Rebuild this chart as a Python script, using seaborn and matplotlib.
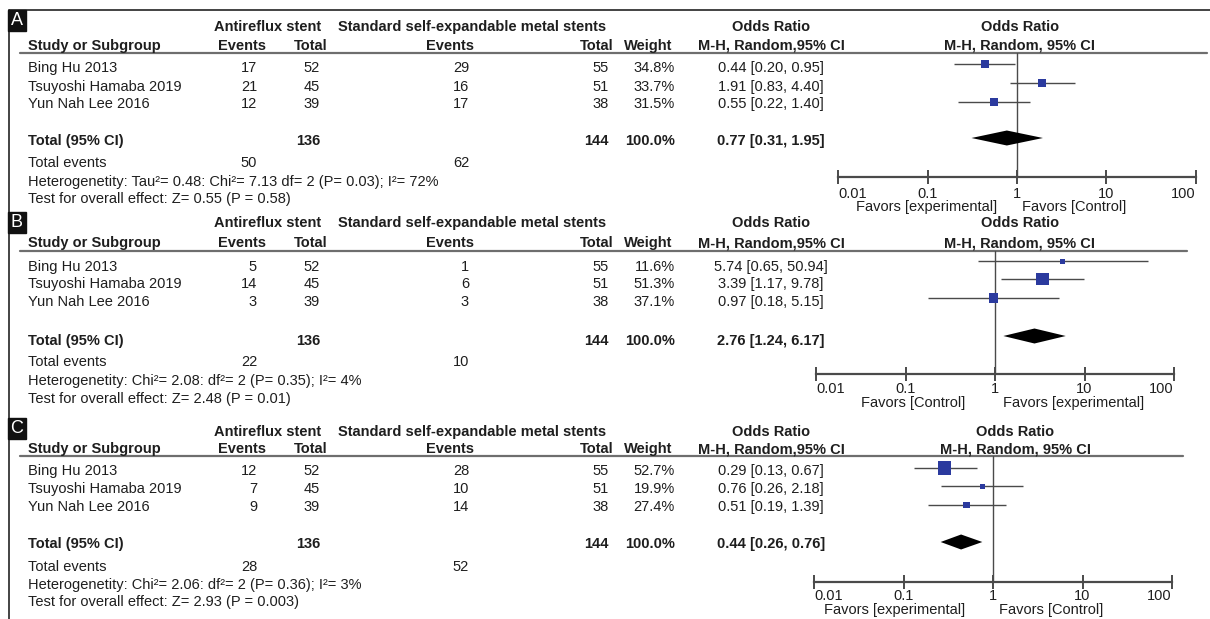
import matplotlib
matplotlib.use('Agg')

import numpy as np
import matplotlib.pyplot as plt
import seaborn as sns
from matplotlib.patches import Rectangle

sns.set_theme(style="white")
plt.rcParams['font.family'] = ['Liberation Sans', 'DejaVu Sans']

# ---------------- data ----------------
panels = ['A', 'B', 'C']
studies = ['Bing Hu 2013', 'Tsuyoshi Hamaba 2019', 'Yun Nah Lee 2016']
exp_events = [[17, 21, 12], [5, 14, 3], [12, 7, 9]]
exp_total = [52, 45, 39]
ctl_events = [[29, 16, 17], [1, 6, 3], [28, 10, 14]]
ctl_total = [55, 51, 38]
weights = [[34.8, 33.7, 31.5], [11.6, 51.3, 37.1], [52.7, 19.9, 27.4]]
or_est = [[0.44, 1.91, 0.55], [5.74, 3.39, 0.97], [0.29, 0.76, 0.51]]
or_lo = [[0.20, 0.83, 0.22], [0.65, 1.17, 0.18], [0.13, 0.26, 0.19]]
or_hi = [[0.95, 4.40, 1.40], [50.94, 9.78, 5.15], [0.67, 2.18, 1.39]]
pooled_est = [0.77, 2.76, 0.44]
pooled_lo = [0.31, 1.24, 0.26]
pooled_hi = [1.95, 6.17, 0.76]
total_exp_events = [50, 22, 28]
total_ctl_events = [62, 10, 52]
heterogeneity = [
    'Heterogenetity: Tau²= 0.48: Chi²= 7.13 df= 2 (P= 0.03); I²= 72%',
    'Heterogenetity: Chi²= 2.08: df²= 2 (P= 0.35); I²= 4%',
    'Heterogenetity: Chi²= 2.06: df²= 2 (P= 0.36); I²= 3%',
]
overall_effect = [
    'Test for overall effect: Z= 0.55 (P = 0.58)',
    'Test for overall effect: Z= 2.48 (P = 0.01)',
    'Test for overall effect: Z= 2.93 (P = 0.003)',
]
favors_left = ['Favors [experimental]', 'Favors [Control]', 'Favors [experimental]']
favors_right = ['Favors [Control]', 'Favors [experimental]', 'Favors [Control]']
tick_vals = [0.01, 0.1, 1, 10, 100]
tick_labels = ['0.01', '0.1', '1', '10', '100']

# ---------------- layout (pixels) ----------------
W, H = 1210, 619
y_head1 = [27, 223, 432]
y_head2 = [46, 243, 449]
y_line = [53, 251, 456]
line_end = [1207, 1187, 1183]
x_fhead = [1020, 1020, 1015]
y_rows = [[68, 87, 104], [267, 284, 302], [471, 489, 507]]
y_total = [141, 341, 544]
y_tev = [163, 362, 567]
y_het = [182, 381, 585]
y_test = [199, 399, 602]
y_box = [10, 212, 418]
y_frows = [[64, 83, 102], [261, 279, 298], [468, 486, 505]]
y_dia = [138, 336, 542]
y_axis = [177, 374, 582]
x_lo = [838, 816, 814]
x_hi = [1196, 1174, 1172]
tick_pad = [2, 0.6, 0.2]
fav_gap = [(20, 5), (30, 8), (28, 6)]
y_fav = [207, 403, 610]

txt = '#1e1e1e'
fs = 10.5
blue = '#2b3a9e'
grey = '#4a4a4a'

fig = plt.figure(figsize=(W / 100, H / 100), dpi=100)
bg = fig.add_axes([0, 0, 1, 1])
bg.set_xlim(0, W)
bg.set_ylim(H, 0)
bg.axis('off')

# outer frame
bg.plot([9, W], [10, 10], color='#111111', lw=1.1)
bg.plot([9, 9], [10, H], color='#111111', lw=1.1)

for p in range(3):
    # panel letter
    bg.add_patch(Rectangle((8, y_box[p]), 18, 21, color='#111111'))
    bg.text(17, y_box[p] + 10.5, panels[p], color='white', fontsize=13,
            ha='center', va='center')

    # headers
    bold = dict(fontsize=fs, fontweight='bold', color=txt, va='center')
    bg.text(268, y_head1[p], 'Antireflux stent', ha='center', **bold)
    bg.text(472, y_head1[p], 'Standard self-expandable metal stents', ha='center', **bold)
    bg.text(771, y_head1[p], 'Odds Ratio', ha='center', **bold)
    bg.text(x_fhead[p], y_head1[p], 'Odds Ratio', ha='center', **bold)
    bg.text(28, y_head2[p], 'Study or Subgroup', ha='left', **bold)
    bg.text(242, y_head2[p], 'Events', ha='center', **bold)
    bg.text(328, y_head2[p], 'Total', ha='right', **bold)
    bg.text(450, y_head2[p], 'Events', ha='center', **bold)
    bg.text(614, y_head2[p], 'Total', ha='right', **bold)
    bg.text(672, y_head2[p], 'Weight', ha='right', **bold)
    bg.text(771, y_head2[p], 'M-H, Random,95% CI', ha='center', **bold)
    bg.text(x_fhead[p], y_head2[p], 'M-H, Random, 95% CI', ha='center', **bold)
    bg.plot([20, line_end[p]], [y_line[p], y_line[p]], color='#6e6e6e', lw=1.6)

    # study rows
    norm = dict(fontsize=fs, color=txt, va='center')
    for i, name in enumerate(studies):
        y = y_rows[p][i]
        bg.text(28, y, name, ha='left', **norm)
        bg.text(257, y, str(exp_events[p][i]), ha='right', **norm)
        bg.text(320, y, str(exp_total[i]), ha='right', **norm)
        bg.text(469, y, str(ctl_events[p][i]), ha='right', **norm)
        bg.text(609, y, str(ctl_total[i]), ha='right', **norm)
        bg.text(675, y, f'{weights[p][i]:.1f}%', ha='right', **norm)
        bg.text(771, y, f'{or_est[p][i]:.2f} [{or_lo[p][i]:.2f}, {or_hi[p][i]:.2f}]',
                ha='center', **norm)

    # totals
    y = y_total[p]
    bg.text(28, y, 'Total (95% CI)', ha='left', **bold)
    bg.text(320, y, str(sum(exp_total)), ha='right', **bold)
    bg.text(609, y, str(sum(ctl_total)), ha='right', **bold)
    bg.text(675, y, '100.0%', ha='right', **bold)
    bg.text(771, y, f'{pooled_est[p]:.2f} [{pooled_lo[p]:.2f}, {pooled_hi[p]:.2f}]',
            ha='center', **bold)
    bg.text(28, y_tev[p], 'Total events', ha='left', **norm)
    bg.text(257, y_tev[p], str(total_exp_events[p]), ha='right', **norm)
    bg.text(469, y_tev[p], str(total_ctl_events[p]), ha='right', **norm)
    bg.text(28, y_het[p], heterogeneity[p], ha='left', **norm)
    bg.text(28, y_test[p], overall_effect[p], ha='left', **norm)

    # forest plot axes (log odds ratio scale)
    ax = fig.add_axes([x_lo[p] / W, 1 - y_axis[p] / H,
                       (x_hi[p] - x_lo[p]) / W, (y_axis[p] - y_line[p]) / H])
    ax.set_facecolor('none')
    ax.set_xscale('log')
    ax.set_xlim(0.01, 100)
    ax.set_ylim(y_axis[p], y_line[p])
    ax.axvline(1, color=grey, lw=1.0, zorder=1)
    ax.hlines(y_frows[p], or_lo[p], or_hi[p], color=grey, lw=1.0, zorder=2)
    side = np.maximum(5, 0.25 * np.array(weights[p])) * 0.72
    sns.scatterplot(x=or_est[p], y=y_frows[p], s=side ** 2, marker='s', color=blue,
                    linewidth=0, legend=False, ax=ax, zorder=3)
    yd, hd = y_dia[p], 7.5
    ax.fill([pooled_lo[p], pooled_est[p], pooled_hi[p], pooled_est[p]],
            [yd, yd - hd, yd, yd + hd], color='black', lw=0, zorder=3)

    for s in ['top', 'right', 'left']:
        ax.spines[s].set_visible(False)
    ax.spines['bottom'].set_color(grey)
    ax.spines['bottom'].set_linewidth(1.6)
    ax.set_yticks([])
    ax.set_xticks(tick_vals)
    ax.minorticks_off()
    ax.set_xticklabels(tick_labels)
    ax.tick_params(axis='x', direction='inout', length=10, width=1.4, color=grey,
                   labelsize=fs, labelcolor=txt, pad=tick_pad[p], bottom=True)
    labs = ax.get_xticklabels()
    labs[0].set_ha('left')
    labs[-1].set_ha('right')
    ax.set_xlabel('')
    ax.set_ylabel('')

    # favours labels around the line of no effect
    x_one = x_lo[p] + (x_hi[p] - x_lo[p]) / 2
    bg.text(x_one - fav_gap[p][0], y_fav[p], favors_left[p], ha='right', **norm)
    bg.text(x_one + fav_gap[p][1], y_fav[p], favors_right[p], ha='left', **norm)

fig.savefig('out.png', dpi=100)
